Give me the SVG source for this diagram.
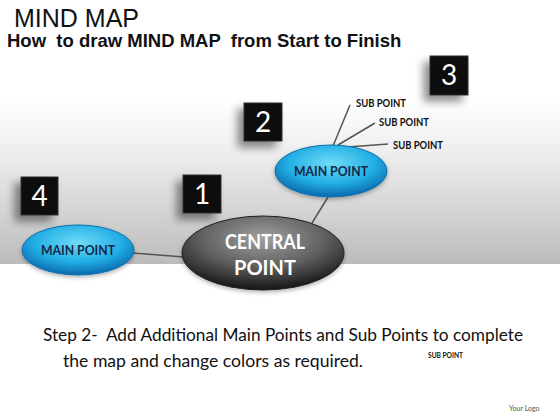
<svg xmlns="http://www.w3.org/2000/svg" width="560" height="420" viewBox="0 0 560 420">
<defs>
<linearGradient id="band" x1="0" y1="0" x2="0" y2="1">
<stop offset="0" stop-color="#ffffff"/>
<stop offset="0.35" stop-color="#ececec"/>
<stop offset="1" stop-color="#bcbcbc"/>
</linearGradient>
<radialGradient id="blue" cx="0.5" cy="0.35" r="0.65">
<stop offset="0" stop-color="#6fdcf8"/>
<stop offset="0.6" stop-color="#22aee4"/>
<stop offset="1" stop-color="#0a68ad"/>
</radialGradient>
<radialGradient id="gray" cx="0.5" cy="0.3" r="0.7">
<stop offset="0" stop-color="#a0a0a0"/>
<stop offset="0.55" stop-color="#606060"/>
<stop offset="1" stop-color="#151515"/>
</radialGradient>
<filter id="shadow" x="-50%" y="-50%" width="200%" height="200%">
<feDropShadow dx="-6" dy="6" stdDeviation="4" flood-color="#000" flood-opacity="0.45"/>
</filter>
<filter id="eshadow" x="-20%" y="-20%" width="140%" height="150%">
<feDropShadow dx="0" dy="2" stdDeviation="2" flood-color="#000" flood-opacity="0.3"/>
</filter>
</defs>
<style>
.box{fill:#0a0a0a;stroke:#333;stroke-width:1}
.num{font-family:Lato,"Liberation Sans",sans-serif;font-size:28px;fill:#fff;text-anchor:middle}
.main{fill:url(#blue);stroke:#0f6fb0;stroke-width:1}
.mtxt{font-family:Lato,"Liberation Sans",sans-serif;font-weight:bold;font-size:13.5px;fill:#14284a;text-anchor:middle}
.sub{font-family:Lato,"Liberation Sans",sans-serif;font-weight:bold;font-size:10.5px;fill:#111}
.ctxt{font-family:Lato,"Liberation Sans",sans-serif;font-weight:bold;font-size:20px;fill:#fff;text-anchor:middle}
.con{stroke:#555;stroke-width:1.5;fill:none}
.body{font-family:Lato,"Liberation Sans",sans-serif;font-size:18px;fill:#111}
</style>
<rect x="0" y="0" width="560" height="420" fill="#fff"/>
<rect x="0" y="100" width="560" height="164" fill="url(#band)"/>
<text x="14" y="27" font-family="Liberation Sans, Arial, sans-serif" font-size="25" fill="#111">MIND MAP</text>
<text x="7" y="47" font-family="Liberation Sans, Arial, sans-serif" font-size="18.5" font-weight="bold" fill="#111" xml:space="preserve">How  to draw MIND MAP  from Start to Finish</text>
<g id="connectors">
<line class="con" x1="133" y1="253" x2="184" y2="257"/>
<line class="con" x1="312" y1="223" x2="328" y2="197"/>
<line class="con" x1="333" y1="146" x2="350" y2="105"/>
<line class="con" x1="338" y1="145" x2="375" y2="123"/>
<line class="con" x1="348" y1="147" x2="388" y2="144"/>
</g>
<g id="box3"><rect class="box" x="430" y="56" width="38" height="39" filter="url(#shadow)"/><text class="num" x="449" y="85">3</text></g>
<g id="box2"><rect class="box" x="244" y="103" width="38" height="38" filter="url(#shadow)"/><text class="num" x="263" y="132">2</text></g>
<g id="box4"><rect class="box" x="21" y="177" width="37" height="38" filter="url(#shadow)"/><text class="num" x="39.5" y="206">4</text></g>
<g id="box1"><rect class="box" x="183" y="175" width="38" height="38" filter="url(#shadow)"/><text class="num" x="202" y="204">1</text></g>
<g id="main-top"><ellipse class="main" cx="331" cy="171" rx="56" ry="26" filter="url(#eshadow)"/><text class="mtxt" x="331" y="176" textLength="74" lengthAdjust="spacingAndGlyphs">MAIN POINT</text></g>
<g id="main-left"><ellipse class="main" cx="78" cy="250" rx="56" ry="25" filter="url(#eshadow)"/><text class="mtxt" x="78" y="255" textLength="74" lengthAdjust="spacingAndGlyphs">MAIN POINT</text></g>
<g id="central"><ellipse cx="263" cy="253" rx="81" ry="37" fill="url(#gray)" stroke="#222" stroke-width="1" filter="url(#eshadow)"/>
<text class="ctxt" x="265" y="249" textLength="80" lengthAdjust="spacingAndGlyphs">CENTRAL</text>
<text class="ctxt" x="265" y="275">POINT</text></g>
<g id="sub1"><text class="sub" x="356" y="107" textLength="50" lengthAdjust="spacingAndGlyphs">SUB POINT</text></g>
<g id="sub2"><text class="sub" x="379" y="126" textLength="50" lengthAdjust="spacingAndGlyphs">SUB POINT</text></g>
<g id="sub3"><text class="sub" x="393" y="149" textLength="50" lengthAdjust="spacingAndGlyphs">SUB POINT</text></g>
<text class="body" x="43" y="341" textLength="480" lengthAdjust="spacingAndGlyphs" xml:space="preserve">Step 2-  Add Additional Main Points and Sub Points to complete</text>
<text class="body" x="63" y="367" textLength="300" lengthAdjust="spacingAndGlyphs">the map and change colors as required.</text>
<g id="sub4"><text class="sub" x="428" y="358" font-size="7px" style="font-size:7px" textLength="35" lengthAdjust="spacingAndGlyphs">SUB POINT</text></g>
<text x="509" y="411" font-family="Lato, Liberation Sans, sans-serif" font-size="7" fill="#555">Your Logo</text>
</svg>
